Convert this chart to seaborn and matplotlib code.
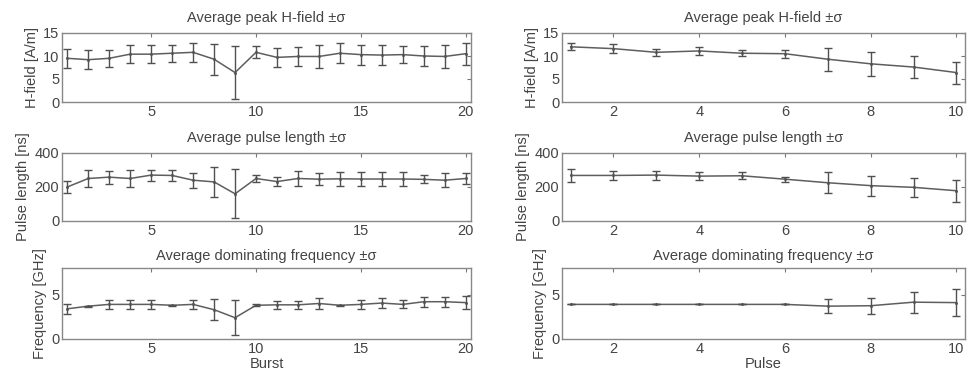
import numpy as np
import pandas as pd
import matplotlib
matplotlib.use("Agg")
import matplotlib.pyplot as plt
import seaborn as sns

# ---- data: left column (bursts) ----
burst = list(range(1, 21))
burst_h_mean = [9.5, 9.2, 9.5, 10.4, 10.4, 10.6, 10.8, 9.3, 6.4, 10.8, 9.7, 9.9, 9.9, 10.6, 10.3, 10.2, 10.3, 10.0, 9.9, 10.5]
burst_h_std = [2.0, 2.0, 1.8, 2.0, 2.0, 1.8, 2.0, 3.4, 5.7, 1.3, 2.0, 2.1, 2.5, 2.2, 2.2, 2.2, 1.8, 2.1, 2.4, 2.4]
burst_pl_mean = [200, 250, 258, 250, 270, 268, 240, 230, 160, 250, 232, 250, 246, 248, 247, 247, 247, 245, 240, 250]
burst_pl_std = [35, 50, 38, 48, 32, 30, 44, 88, 145, 22, 27, 44, 36, 40, 40, 40, 40, 24, 40, 32]
burst_f_mean = [3.4, 3.7, 3.9, 3.9, 3.9, 3.8, 3.9, 3.3, 2.4, 3.8, 3.85, 3.85, 4.0, 3.8, 3.9, 4.05, 3.9, 4.2, 4.2, 4.1]
burst_f_std = [0.55, 0.05, 0.5, 0.5, 0.5, 0.05, 0.5, 1.2, 2.0, 0.1, 0.45, 0.45, 0.65, 0.05, 0.5, 0.6, 0.45, 0.55, 0.55, 0.75]

# ---- data: right column (pulses) ----
pulse = list(range(1, 11))
pulse_h_mean = [12.0, 11.6, 10.8, 11.1, 10.6, 10.5, 9.3, 8.3, 7.6, 6.4]
pulse_h_std = [0.75, 1.0, 0.75, 0.9, 0.7, 0.85, 2.5, 2.6, 2.3, 2.4]
pulse_pl_mean = [268, 268, 270, 264, 266, 246, 225, 208, 198, 178]
pulse_pl_std = [38, 28, 26, 24, 20, 15, 62, 59, 54, 64]
pulse_f_mean = [3.9, 3.9, 3.9, 3.9, 3.9, 3.9, 3.7, 3.75, 4.15, 4.1]
pulse_f_std = [0.0, 0.0, 0.0, 0.0, 0.0, 0.0, 0.8, 0.9, 1.2, 1.55]

titles = ["Average peak H-field \u00b1\u03c3", "Average pulse length \u00b1\u03c3", "Average dominating frequency \u00b1\u03c3"]
ylabels = ["H-field [A/m]", "Pulse length [ns]", "Frequency [GHz]"]
ylims = [(0, 15), (0, 400), (0, 8)]
yticks = [[0, 5, 10, 15], [0, 200, 400], [0, 5]]

sns.set_style("white")
plt.rcParams["font.family"] = ["Liberation Sans", "DejaVu Sans"]

fig = plt.figure(figsize=(9.67, 3.77), dpi=100)
W, H = 967.0, 377.0
rows = [(33, 102), (153, 221), (268, 339)]
cols = [(62, 471), (562, 965)]
title_pads = [8, 8, 6]

LINE = "#5e5e5e"
TXT = "#444444"
FS = 10.5

datasets = [
    (burst, [(burst_h_mean, burst_h_std), (burst_pl_mean, burst_pl_std), (burst_f_mean, burst_f_std)],
     "Burst", [5, 10, 15, 20], (0.75, 20.25)),
    (pulse, [(pulse_h_mean, pulse_h_std), (pulse_pl_mean, pulse_pl_std), (pulse_f_mean, pulse_f_std)],
     "Pulse", [2, 4, 6, 8, 10], (0.8, 10.2)),
]

for ci, (xs, series, xlabel, xt, xl) in enumerate(datasets):
    x0, x1 = cols[ci]
    for ri in range(3):
        y0, y1 = rows[ri]
        ax = fig.add_axes([x0 / W, 1 - y1 / H, (x1 - x0) / W, (y1 - y0) / H])
        m, s = series[ri]
        df = pd.DataFrame({"x": xs, "m": m, "s": s})
        sns.lineplot(data=df, x="x", y="m", ax=ax, color=LINE, lw=1.1,
                     marker="o", markersize=2.2, markeredgewidth=0)
        ax.errorbar(df["x"], df["m"], yerr=df["s"], fmt="none", ecolor="#505050",
                    elinewidth=1.0, capsize=2.8, capthick=1.0)
        ax.set_xlim(*xl)
        ax.set_ylim(*ylims[ri])
        ax.set_yticks(yticks[ri])
        ax.set_xticks(xt)
        ax.set_title(titles[ri], fontsize=FS, color=TXT, pad=title_pads[ri])
        ax.set_ylabel(ylabels[ri], fontsize=FS, color=TXT, labelpad=3)
        ax.set_xlabel(xlabel if ri == 2 else "", fontsize=FS, color=TXT, labelpad=1)
        ax.tick_params(direction="in", length=3, width=0.8, colors="#777777",
                       labelcolor=TXT, labelsize=FS, top=True, right=True, pad=2)
        for sp in ax.spines.values():
            sp.set_color("#888888")
            sp.set_linewidth(1.0)

fig.savefig("out.png", dpi=100)
